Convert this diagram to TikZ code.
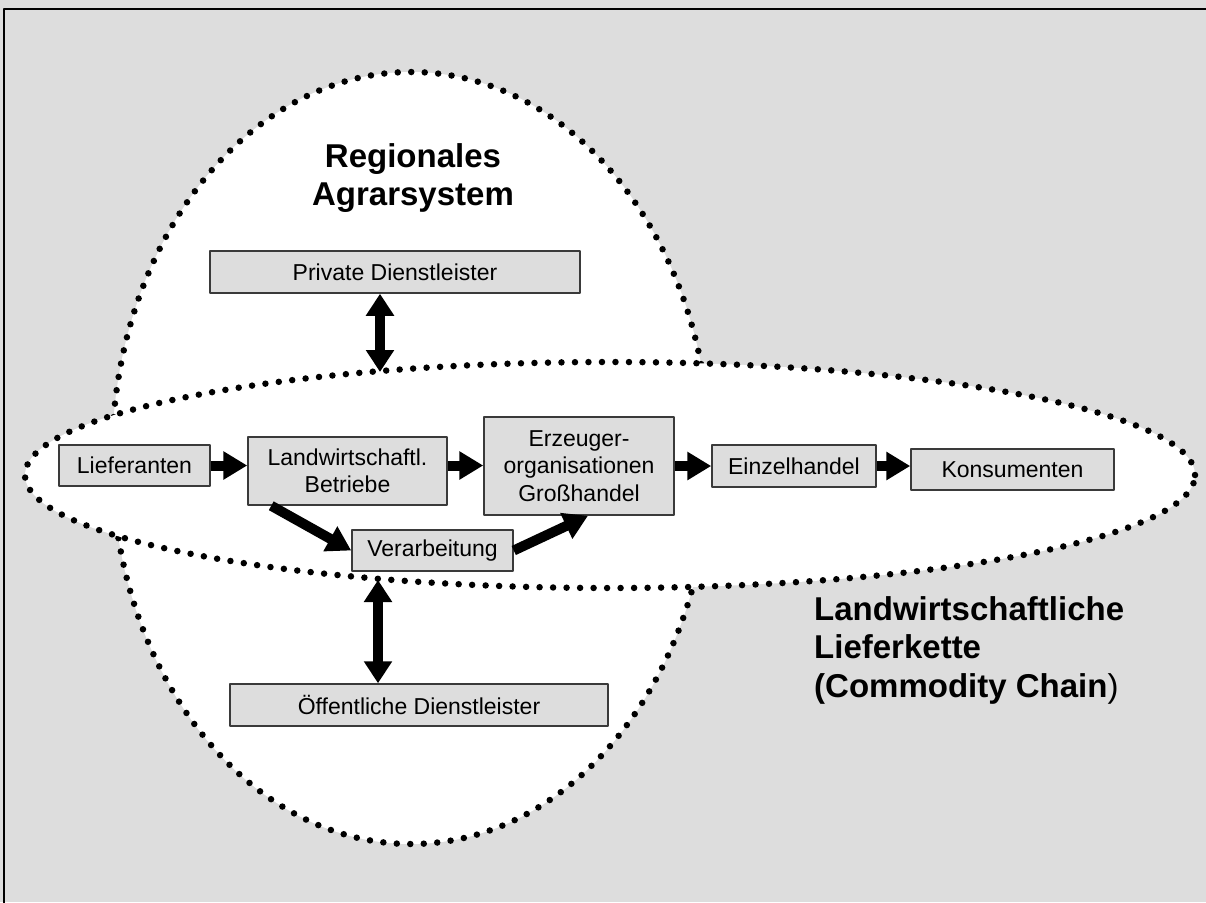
\documentclass[tikz,border=0pt]{standalone}
\usepackage{fontspec}
\setmainfont{Liberation Sans}
\usetikzlibrary{arrows.meta}
\definecolor{bggray}{HTML}{DDDDDD}
\definecolor{boxline}{HTML}{3A3A3A}
\begin{document}
\begin{tikzpicture}[x=1pt,y=-1pt,line join=round,
    box/.style={draw=boxline,line width=1.5pt,fill=bggray,inner sep=0pt,align=center,
        font=\fontsize{23}{27.5}\selectfont},
    flow/.style={line width=10pt,-{Triangle[width=27pt,length=24pt]}},
    both/.style={line width=10pt,{Triangle[width=27pt,length=22pt]}-{Triangle[width=27pt,length=22pt]}},
    dots/.style={line width=6.5pt,line cap=round,dash pattern=on 0pt off 13.5pt,fill=white},
    title/.style={inner sep=0pt,font=\fontsize{33}{38.5}\selectfont\bfseries}]
    \clip (0,0) rectangle (1206,902);
    \fill[bggray] (0,0) rectangle (1206,902);
    \draw[line width=2.5pt] (4,9) rectangle (1240,940);
    % the two regions
    \draw[dots] (411,458) ellipse [x radius=299pt, y radius=386pt];
    \draw[dots] (610,475) ellipse [x radius=585pt, y radius=113pt];
    \coordinate (htop) at (380,372);
    \coordinate (hbot) at (378,580);
    % titles
    \node[title,align=center,anchor=north] (regtitle) at (413,143) {Regionales\\Agrarsystem};
    \node[title,align=left,anchor=north west] (chaintitle) at (814,596)
        {Landwirtschaftliche\\Lieferkette\\(Commodity Chain\textmd{)}};
    % boxes
    \node[box,minimum width=370pt,minimum height=42pt] (priv) at (395,272) {Private Dienstleister};
    \node[box,minimum width=151pt,minimum height=41pt] (lief) at (134.5,465.5) {Lieferanten};
    \node[box,minimum width=199pt,minimum height=68pt] (landw) at (347.5,471) {Landwirtschaftl.\\Betriebe};
    \node[box,minimum width=190pt,minimum height=98pt] (erz) at (579,466) {Erzeuger-\\organisationen\\Großhandel};
    \node[box,minimum width=164pt,minimum height=42pt] (einz) at (794,466) {Einzelhandel};
    \node[box,minimum width=203pt,minimum height=41pt] (kons) at (1012.5,469.5) {Konsumenten};
    \node[box,minimum width=161pt,minimum height=41pt] (verarb) at (432.5,550.5) {Verarbeitung};
    \node[box,minimum width=378pt,minimum height=42pt] (oeff) at (419,705) {Öffentliche Dienstleister};
    % flows
    \draw[flow] (lief.east) -- (lief.east -| landw.west);
    \draw[flow] (lief.east -| landw.east) -- (lief.east -| erz.west);
    \draw[flow] (erz.east) -- (erz.east -| einz.west);
    \draw[flow] (einz.east) -- (einz.east -| kons.west);
    \draw[flow] ([xshift=24pt]landw.south west) -- (verarb.west);
    \draw[flow] (verarb.east) -- ([xshift=9pt]erz.south);
    \draw[both] ([xshift=-15pt]priv.south) -- (htop);
    \draw[both] (hbot) -- (hbot |- oeff.north);
\end{tikzpicture}
\end{document}
